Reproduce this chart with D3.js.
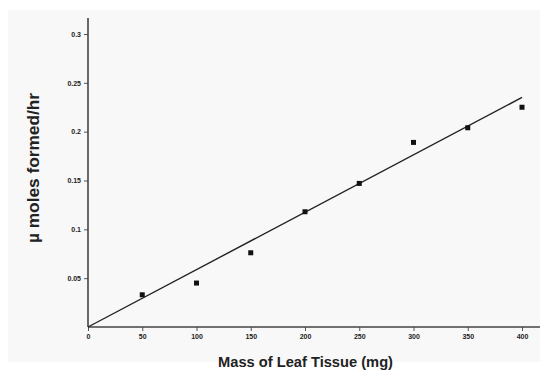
<!DOCTYPE html>
<html>
<head>
<meta charset="utf-8">
<script src="https://cdn.jsdelivr.net/npm/d3@7"></script>
<style>
  body { margin: 0; background: #fff; }
  svg { display: block; font-family: "Liberation Sans", Arial, sans-serif; }
</style>
</head>
<body>
<div id="chart"></div>
<script>
'use strict';
// data
const massMg = [50, 100, 150, 200, 250, 300, 350, 400];
const rateValues = [0.033, 0.045, 0.076, 0.118, 0.147, 0.189, 0.204, 0.225];
const fitX = [0, 400];
const fitY = [0, 0.235];
const xTicks = [0, 50, 100, 150, 200, 250, 300, 350, 400];
const yTicks = [0.05, 0.1, 0.15, 0.2, 0.25, 0.3];

const width = 542, height = 373;
const left = 88, bottom = 327;

const svg = d3.select("#chart").append("svg")
  .attr("width", width)
  .attr("height", height);

svg.append("rect")
  .attr("x", 8).attr("y", 10)
  .attr("width", 532).attr("height", 352)
  .attr("fill", "#f8f8f8");

const x = d3.scaleLinear().domain([0, 400]).range([left, 522]);
const y = d3.scaleLinear().domain([0, 0.3]).range([bottom, 34]);

// axes
const xAxis = svg.append("g")
  .attr("transform", "translate(0," + bottom + ")")
  .call(d3.axisBottom(x).tickValues(xTicks).tickSize(4).tickPadding(3)
    .tickFormat(d3.format("d")));
xAxis.select(".domain").remove();
xAxis.append("line")
  .attr("x1", left).attr("x2", 540)
  .attr("stroke", "#444").attr("stroke-width", 1.6);

const yAxis = svg.append("g")
  .attr("transform", "translate(" + left + ",0)")
  .call(d3.axisLeft(y).tickValues(yTicks).tickSize(4).tickPadding(3)
    .tickFormat(d => String(d)));
yAxis.select(".domain").remove();
yAxis.append("line")
  .attr("y1", bottom).attr("y2", 18)
  .attr("stroke", "#444").attr("stroke-width", 1.6);

svg.selectAll(".tick line").attr("stroke", "#555");
svg.selectAll(".tick text")
  .attr("fill", "#222")
  .style("font-size", "7px")
  .style("font-weight", "bold");

// fit line
svg.append("line")
  .attr("x1", x(fitX[0])).attr("y1", y(fitY[0]))
  .attr("x2", x(fitX[1])).attr("y2", y(fitY[1]))
  .attr("stroke", "#222").attr("stroke-width", 1.4);

// points
svg.selectAll("rect.pt")
  .data(massMg)
  .enter().append("rect")
  .attr("class", "pt")
  .attr("x", d => x(d) - 2.5)
  .attr("y", (d, i) => y(rateValues[i]) - 2.5)
  .attr("width", 5).attr("height", 5)
  .attr("fill", "#111");

// titles
svg.append("text")
  .attr("x", 218).attr("y", 367)
  .attr("textLength", 175)
  .attr("lengthAdjust", "spacingAndGlyphs")
  .style("font-size", "15px")
  .style("font-weight", "bold")
  .attr("fill", "#222")
  .text("Mass of Leaf Tissue (mg)");

svg.append("text")
  .attr("transform", "translate(39,243) rotate(-90)")
  .attr("textLength", 150)
  .attr("lengthAdjust", "spacingAndGlyphs")
  .style("font-size", "16px")
  .style("font-weight", "bold")
  .attr("fill", "#222")
  .text("µ moles formed/hr");
</script>
</body>
</html>
